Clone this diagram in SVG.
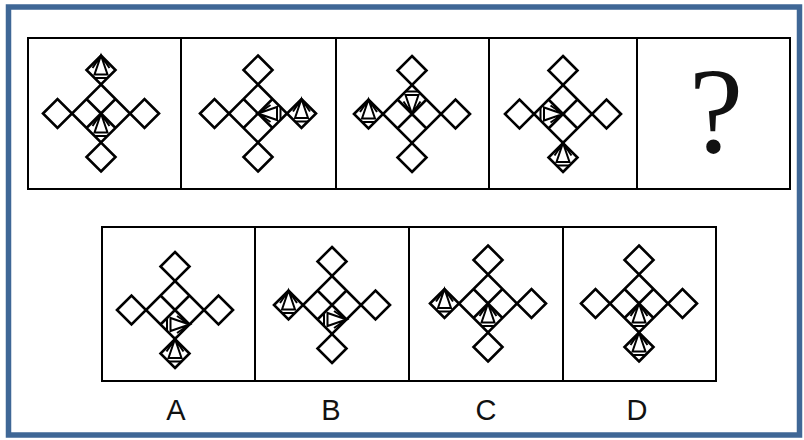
<svg xmlns="http://www.w3.org/2000/svg" xmlns:xlink="http://www.w3.org/1999/xlink" width="804" height="440" viewBox="0 0 804 440">
<style>
.frame{fill:none;stroke:#000;stroke-width:2}
.fig{fill:none;stroke:#000;stroke-width:2.6;stroke-linejoin:miter}
.pyr{fill:none;stroke:#000;stroke-width:2;stroke-linejoin:miter}
.lbl{font-family:"Liberation Sans",Arial,sans-serif;font-size:29px;fill:#111;text-anchor:middle}
.q{font-family:"Liberation Serif","Times New Roman",serif;font-size:122px;fill:#111;text-anchor:middle}
</style>
<defs>
<g id="cross" class="fig">
<path d="M0,-29 L29,0 L0,29 L-29,0 Z M-14.5,-14.5 L14.5,14.5 M14.5,-14.5 L-14.5,14.5"/>
<path d="M0,-58 L14.5,-43.5 L0,-29 L-14.5,-43.5 Z"/>
<path d="M0,58 L14.5,43.5 L0,29 L-14.5,43.5 Z"/>
<path d="M-58,0 L-43.5,-14.5 L-29,0 L-43.5,14.5 Z"/>
<path d="M58,0 L43.5,-14.5 L29,0 L43.5,14.5 Z"/>
</g>
<path id="pyr" class="pyr" d="M0,-14.5 L-6.5,4.5 L6.5,4.5 Z M-6,8 L6,8 M0,-14.5 L-8.5,-2 M0,-14.5 L8.5,-2"/>
</defs>
<rect x="8.5" y="7" width="791" height="428" fill="#fff" stroke="#3f6796" stroke-width="5.5"/>
<g id="frames">
<rect class="frame" x="28" y="38" width="762" height="151"/>
<path class="frame" d="M181,38 V189 M336,38 V189 M489,38 V189 M637,38 V189"/>
<rect class="frame" x="102" y="227" width="614" height="154"/>
<path class="frame" d="M255,227 V381 M409,227 V381 M563,227 V381"/>
</g>
<g id="panel1" transform="translate(101,113.5)">
<use xlink:href="#cross"/>
<use xlink:href="#pyr" transform="translate(0,-43.5)"/>
<use xlink:href="#pyr" transform="translate(0,14.5)"/>
</g>
<g id="panel2" transform="translate(258,113.5)">
<use xlink:href="#cross"/>
<use xlink:href="#pyr" transform="translate(14.5,0) rotate(-90)"/>
<use xlink:href="#pyr" transform="translate(43.5,0)"/>
</g>
<g id="panel3" transform="translate(412,114)">
<use xlink:href="#cross"/>
<use xlink:href="#pyr" transform="translate(0,-14.5) rotate(180)"/>
<use xlink:href="#pyr" transform="translate(-43.5,0)"/>
</g>
<g id="panel4" transform="translate(563,114)">
<use xlink:href="#cross"/>
<use xlink:href="#pyr" transform="translate(-14.5,0) rotate(90)"/>
<use xlink:href="#pyr" transform="translate(0,43.5)"/>
</g>
<g id="panel5">
<text class="q" x="716" y="152">?</text>
</g>
<g id="optionA" transform="translate(175,310)">
<use xlink:href="#cross"/>
<use xlink:href="#pyr" transform="translate(0,14.5) rotate(90)"/>
<use xlink:href="#pyr" transform="translate(0,43.5)"/>
</g>
<g id="optionB" transform="translate(332,305)">
<use xlink:href="#cross"/>
<use xlink:href="#pyr" transform="translate(0,14.5) rotate(90)"/>
<use xlink:href="#pyr" transform="translate(-43.5,0)"/>
</g>
<g id="optionC" transform="translate(488,303.5)">
<use xlink:href="#cross"/>
<use xlink:href="#pyr" transform="translate(0,14.5)"/>
<use xlink:href="#pyr" transform="translate(-43.5,0)"/>
</g>
<g id="optionD" transform="translate(639,303.5)">
<use xlink:href="#cross"/>
<use xlink:href="#pyr" transform="translate(0,14.5)"/>
<use xlink:href="#pyr" transform="translate(0,43.5)"/>
</g>
<g id="labels">
<text class="lbl" x="176" y="420">A</text>
<text class="lbl" x="331" y="420">B</text>
<text class="lbl" x="486" y="420">C</text>
<text class="lbl" x="637" y="420">D</text>
</g>
</svg>
